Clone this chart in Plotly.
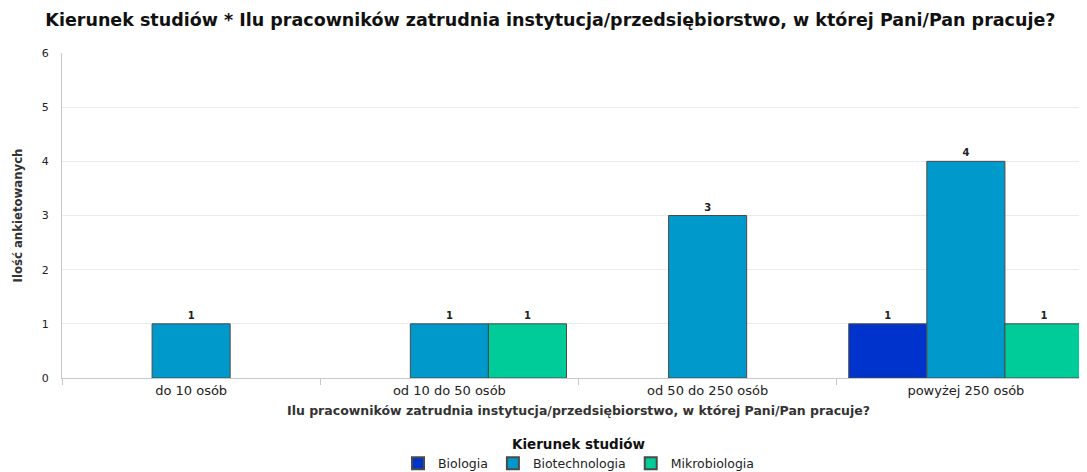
import plotly.graph_objects as go

categories = ["do 10 osób", "od 10 do 50 osób", "od 50 do 250 osób", "powyżej 250 osób"]
series_names = ["Biologia", "Biotechnologia", "Mikrobiologia"]
biologia = [None, None, None, 1]
biotechnologia = [1, 1, 3, 4]
mikrobiologia = [None, 1, None, 1]
colors = ["#0033CC", "#0099CC", "#00CC99"]
y_ticks = [0, 1, 2, 3, 4, 5, 6]

fig = go.Figure()
for name, vals, col in zip(series_names, [biologia, biotechnologia, mikrobiologia], colors):
    fig.add_trace(go.Bar(
        name=name, x=categories, y=vals,
        marker=dict(color=col, line=dict(color="#4a4a4a", width=1)),
        text=[("%d" % v) if v is not None else "" for v in vals],
        textposition="outside",
        textfont=dict(family="DejaVu Sans", size=10, color="#222", weight="bold"),
        cliponaxis=False,
    ))

fig.update_layout(
    width=1087, height=472,
    barmode="group", bargap=0.093, bargroupgap=0,
    plot_bgcolor="white", paper_bgcolor="white",
    margin=dict(l=54, r=0, t=45, b=102, autoexpand=False),
    title=dict(text="<b>Kierunek studiów * Ilu pracowników zatrudnia instytucja/przedsiębiorstwo, w której Pani/Pan pracuje?</b>",
               x=0.499, xanchor="center", y=0.975, yanchor="middle",
               font=dict(family="DejaVu Sans", size=17.5, color="#111")),
    font=dict(family="DejaVu Sans", size=10, color="#222"),
    showlegend=True,
    legend=dict(orientation="h", x=0.5, xanchor="center", y=-0.163, yanchor="top",
                title=dict(text="<b>Kierunek studiów</b>", side="top center",
                           font=dict(family="DejaVu Sans", size=13.5, color="#111")),
                font=dict(family="DejaVu Sans", size=12.5, color="#222"),
                itemsizing="constant", traceorder="normal", tracegroupgap=0),
)
fig.update_xaxes(
    type="category", range=[-0.5, 3.5], automargin=False,
    showline=True, linecolor="#c8c8c8", linewidth=1,
    ticks="outside", tickson="boundaries", ticklen=6, tickcolor="#c8c8c8",
    tickfont=dict(family="DejaVu Sans", size=13, color="#222"),
    title=dict(text="<b>Ilu pracowników zatrudnia instytucja/przedsiębiorstwo, w której Pani/Pan pracuje?</b>",
               font=dict(family="DejaVu Sans", size=12.5, color="#333"), standoff=9),
    showgrid=False,
)
fig.update_yaxes(
    range=[0, 6], tickvals=y_ticks, ticktext=[str(t) for t in y_ticks], automargin=False,
    showline=True, linecolor="#c8c8c8", linewidth=1,
    showgrid=True, gridcolor="#ebebeb", gridwidth=1,
    tickfont=dict(family="DejaVu Sans", size=11, color="#222"),
    ticks="", ticklabelstandoff=10,
    title=dict(text="<b>Ilość ankietowanych</b>",
               font=dict(family="DejaVu Sans Condensed", size=13, color="#333"), standoff=16),
    zeroline=False,
)
fig.write_html("out.html")
